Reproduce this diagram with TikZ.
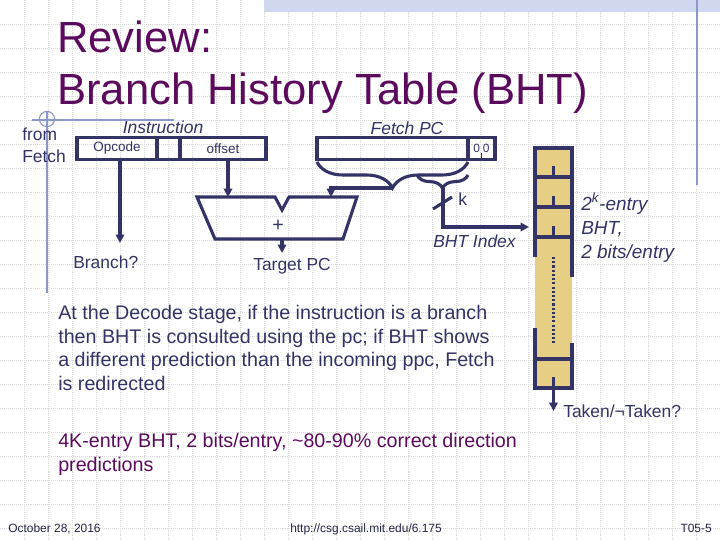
\documentclass[tikz,border=0pt]{standalone}
\usepackage{fontspec}
\setmainfont{Liberation Sans}
\usetikzlibrary{arrows.meta,decorations.pathreplacing,positioning}

\definecolor{navy}{RGB}{51,51,102}
\definecolor{titlepurple}{RGB}{92,10,94}
\definecolor{bhtyellow}{RGB}{230,207,133}
\definecolor{decoblue}{RGB}{140,150,200}
\definecolor{bandblue}{RGB}{208,216,240}

\begin{document}
\begin{tikzpicture}[x=0.025cm, y=-0.025cm,
		wire/.style={draw=navy, line width=2.2pt},
		arr/.style={wire, -{Triangle[length=6pt,width=6pt]}},
		field/.style={draw=navy, line width=2.2pt, inner sep=0pt, minimum height=0.55cm, text=navy, font=\fontsize{9.6}{11}\selectfont},
		lbl/.style={inner sep=0pt, text=navy, font=\fontsize{12.4}{15.6}\selectfont},
		ilbl/.style={inner sep=0pt, text=navy, font=\fontsize{12.4}{15.6}\selectfont\itshape},
		para/.style={inner sep=0pt, align=left, font=\fontsize{14}{17}\selectfont},
		gridline/.style={draw=gray!30, densely dotted, line width=0.4pt},
		deco/.style={draw=decoblue, line width=0.8pt}]
	\useasboundingbox (0,0) rectangle (720,540);
	
	% slide background: dotted grid, top band, guide lines
	\foreach \gx in {24,48,...,696} \draw[gridline] (\gx,0) -- (\gx,540);
	\foreach \gy in {24,48,...,528} \draw[gridline] (0,\gy) -- (720,\gy);
	\fill[bandblue] (264,0) rectangle (720,12);
	\draw[deco] (697,0) -- (697,185);
	\draw[deco] (32,120) -- (174,120);
	\draw[deco] (47,112) -- (47,293);
	\draw[deco] (47,119) circle[radius=0.19cm];
	
	% title
	\node[inner sep=0pt, anchor=north west, align=left, text=titlepurple, font=\fontsize{31}{36.85}\selectfont] (title) at (57,20.5) {Review:\\Branch History Table (BHT)};
	
	% instruction register
	\node[lbl, anchor=north west, align=left] (from) at (22,128) {from\\Fetch};
	\node[ilbl, anchor=base] (instr) at (163,133) {Instruction};
	\node[field, minimum width=2cm] (opc) at (117,148.5) {Opcode};
	\node[field, minimum width=0.575cm] (mid) at (168.5,148.5) {};
	\node[field, minimum width=2.15cm] (off) at (223,148.5) {offset};
	
	% fetch pc register
	\node[ilbl, anchor=base] (fpc) at (407,134) {Fetch PC};
	\node[field, minimum width=3.775cm] (pchi) at (392.5,148.5) {};
	\node[field, minimum width=0.675cm, font=\fontsize{8.5}{10}\selectfont] (pclo) at (481.5,148.5) {0\hspace{2pt}0};
	\draw[wire, line width=1.2pt] (pclo.south) -- ++(0,-8);
	
	% adder
	\draw[wire, line join=miter] (197,197) -- (275,197) -- (282,210) -- (289,197) -- (357,197) -- (343,239) -- (215,239) -- cycle;
	\node[lbl, font=\fontsize{14}{16}\selectfont] (plus) at (278,226) {+};
	\coordinate (addinA) at (228,197);
	\coordinate (addinB) at (331,197);
	\coordinate (addout) at (282,239);
	\coordinate (tpctip) at (282,253);
	\coordinate (brtip) at (120,243);
	
	\draw[arr] (opc.south -| brtip) -- (brtip);
	\draw[arr] (off.south -| addinA) -- (addinA);
	\draw[arr] (addout) -- (tpctip);
	\node[lbl, anchor=base west] (branch) at (73,268) {Branch?};
	\node[lbl, anchor=base west] (tpc) at (253,270) {Target PC};
	
	% braces under the pc
	\draw[wire, decorate, decoration={brace, mirror, amplitude=0.65cm}] (317,162) -- (468,162);
	\coordinate (bigtip) at (393,188);
	\draw[arr] (bigtip) -| (addinB);
	\draw[wire, decorate, decoration={brace, mirror, amplitude=0.33cm}] (417,175) -- (468,175);
	\coordinate (smalltip) at (443,188);
	\coordinate (bhtin) at (529,227);
	\draw[arr] (smalltip) |- (bhtin);
	\draw[wire] (433,209) -- (452,197);
	\node[lbl, anchor=base west] (k) at (458,205) {k};
	\node[ilbl, anchor=base west] (bhtidx) at (433,247) {BHT Index};
	
	% the table
	\fill[bhtyellow] (535,148) rectangle (572,388);
	\draw[wire] (535,257) -- (535,148) -- (572,148) -- (572,277);
	\draw[wire] (535,328) -- (535,388) -- (572,388) -- (572,343);
	\foreach \ry in {177,207,237,359} \draw[wire] (535,\ry) -- (572,\ry);
	\foreach \ry in {177,207,237,388} \draw[wire] (553.5,\ry) -- ++(0,-11);
	\draw[wire, dash pattern=on 1.5pt off 1.5pt] (553.5,257) -- (553.5,343);
	\coordinate (bhtout) at (553.5,388);
	\coordinate (takentip) at (553.5,411);
	\draw[arr] (bhtout) -- (takentip);
	\node[lbl, anchor=base west] (taken) at (563,417) {Taken/¬Taken?};
	\node[inner sep=0pt, anchor=north west, align=left, text=navy, font=\fontsize{13.5}{17}\selectfont\itshape] (bhtsize) at (581,193) {2\textsuperscript{k}-entry\\BHT,\\2 bits/entry};
	
	% text
	\node[para, anchor=north west, text=navy] (decode) at (58,304.6) {At the Decode stage, if the instruction is a branch\\then BHT is consulted using the pc; if BHT shows\\a different prediction than the incoming ppc, Fetch\\is redirected};
	\node[para, anchor=north west, text=titlepurple] (accuracy) at (58,432.6) {4K-entry BHT, 2 bits/entry, \textasciitilde80-90\% correct direction\\predictions};
	
	% footer
	\node[inner sep=0pt, anchor=base west, text=navy!70!black, font=\fontsize{8.5}{10}\selectfont] (date) at (8,532) {October 28, 2016};
	\node[inner sep=0pt, anchor=base, text=navy!70!black, font=\fontsize{8.5}{10}\selectfont] (url) at (366,532) {http://csg.csail.mit.edu/6.175};
	\node[inner sep=0pt, anchor=base east, text=navy!70!black, font=\fontsize{8.5}{10}\selectfont] (page) at (712,532) {T05-5};
\end{tikzpicture}
\end{document}
